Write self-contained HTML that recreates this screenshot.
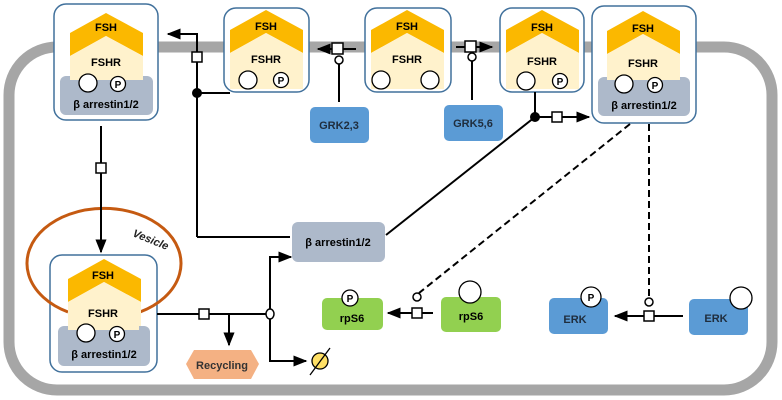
<!DOCTYPE html>
<html><head><meta charset="utf-8"><style>
html,body{margin:0;padding:0;background:#fff;}
svg{display:block;font-family:"Liberation Sans",Arial,sans-serif;font-weight:bold;}
</style></head><body>
<svg width="782" height="400" viewBox="0 0 782 400" xmlns="http://www.w3.org/2000/svg">
<defs>
<marker id="ah" viewBox="0 0 10 10" refX="9" refY="5" markerWidth="7" markerHeight="7" orient="auto"><path d="M0,1 L10,5 L0,9 z" fill="#000"/></marker>
<g id="rec">
  <polygon points="0,20 36,0 73,20 73,43 36,23 0,43" fill="#fbb800"/>
  <polygon points="0,43 36,23 73,43 73,70 0,70" fill="#fff2cc"/>
</g>
</defs>
<!-- membrane -->
<rect x="9" y="47" width="763" height="343" rx="48" ry="48" fill="none" stroke="#a6a6a6" stroke-width="11"/>

<text x="132" y="236" font-size="11" font-style="italic" transform="rotate(22 132 236)" fill="#222">Vesicle</text>

<!-- Box1 -->
<rect x="54" y="4" width="104" height="116" rx="12" fill="#fff" stroke="#41719c" stroke-width="1.5"/>
<use href="#rec" x="70" y="13"/>
<rect x="60" y="76" width="93" height="39" rx="6" fill="#adb9ca"/>
<rect x="70" y="72" width="73" height="8" fill="#fff2cc"/>
<text x="106" y="31" font-size="11" text-anchor="middle">FSH</text>
<text x="106" y="66" font-size="11" text-anchor="middle">FSHR</text>
<circle cx="88" cy="83" r="9" fill="#fff" stroke="#000" stroke-width="1.3"/>
<circle cx="118" cy="84" r="7.5" fill="#fff" stroke="#000" stroke-width="1.3"/><text x="118" y="88" font-size="10" text-anchor="middle">P</text>
<text x="106" y="108" font-size="11" text-anchor="middle">β arrestin1/2</text>

<!-- Box2 -->
<rect x="224" y="8" width="85" height="84" rx="12" fill="#fff" stroke="#41719c" stroke-width="1.5"/>
<use href="#rec" x="230" y="10"/>
<rect x="230" y="75" width="73" height="14" fill="#fff2cc"/>
<text x="266" y="30" font-size="11" text-anchor="middle">FSH</text>
<text x="266" y="63" font-size="11" text-anchor="middle">FSHR</text>
<circle cx="248" cy="80" r="9" fill="#fff" stroke="#000" stroke-width="1.3"/>
<circle cx="281" cy="80" r="7.5" fill="#fff" stroke="#000" stroke-width="1.3"/><text x="281" y="84" font-size="10" text-anchor="middle">P</text>

<!-- Box3 -->
<rect x="365" y="8" width="86" height="84" rx="12" fill="#fff" stroke="#41719c" stroke-width="1.5"/>
<use href="#rec" x="371" y="10"/>
<rect x="371" y="75" width="73" height="14" fill="#fff2cc"/>
<text x="407" y="30" font-size="11" text-anchor="middle">FSH</text>
<text x="407" y="63" font-size="11" text-anchor="middle">FSHR</text>
<circle cx="381" cy="80" r="9" fill="#fff" stroke="#000" stroke-width="1.3"/>
<circle cx="430" cy="80" r="9" fill="#fff" stroke="#000" stroke-width="1.3"/>

<!-- Box4 -->
<rect x="500" y="8" width="84" height="84" rx="12" fill="#fff" stroke="#41719c" stroke-width="1.5"/>
<use href="#rec" x="506" y="10"/>
<rect x="506" y="75" width="73" height="14" fill="#fff2cc"/>
<text x="542" y="31" font-size="11" text-anchor="middle">FSH</text>
<text x="542" y="65" font-size="11" text-anchor="middle">FSHR</text>
<circle cx="526" cy="81" r="9" fill="#fff" stroke="#000" stroke-width="1.3"/>
<circle cx="560" cy="81" r="7.5" fill="#fff" stroke="#000" stroke-width="1.3"/><text x="560" y="85" font-size="10" text-anchor="middle">P</text>

<!-- Box5 -->
<rect x="592" y="6" width="104" height="117" rx="12" fill="#fff" stroke="#41719c" stroke-width="1.5"/>
<use href="#rec" x="607" y="11"/>
<rect x="598" y="77" width="92" height="39" rx="6" fill="#adb9ca"/>
<rect x="607" y="72" width="73" height="8" fill="#fff2cc"/>
<text x="643" y="32" font-size="11" text-anchor="middle">FSH</text>
<text x="643" y="67" font-size="11" text-anchor="middle">FSHR</text>
<circle cx="624" cy="84" r="9" fill="#fff" stroke="#000" stroke-width="1.3"/>
<circle cx="655" cy="85" r="7.5" fill="#fff" stroke="#000" stroke-width="1.3"/><text x="655" y="89" font-size="10" text-anchor="middle">P</text>
<text x="644" y="109" font-size="11" text-anchor="middle">β arrestin1/2</text>

<!-- Box6 -->
<rect x="50" y="255" width="107" height="117" rx="12" fill="#fff" stroke="#41719c" stroke-width="1.5"/>
<path d="M68,312 A77,55 0 1 1 140,312" fill="none" stroke="#c55a11" stroke-width="3"/>
<use href="#rec" x="68" y="259"/>
<rect x="58" y="326" width="92" height="40" rx="6" fill="#adb9ca"/>
<rect x="68" y="322" width="71" height="8" fill="#fff2cc"/>
<text x="103" y="279" font-size="11" text-anchor="middle">FSH</text>
<text x="103" y="317" font-size="11" text-anchor="middle">FSHR</text>
<circle cx="86" cy="333" r="9" fill="#fff" stroke="#000" stroke-width="1.3"/>
<circle cx="117" cy="334" r="7.5" fill="#fff" stroke="#000" stroke-width="1.3"/><text x="117" y="338" font-size="10" text-anchor="middle">P</text>
<text x="104" y="358" font-size="11" text-anchor="middle">β arrestin1/2</text>

<g stroke="#000" stroke-width="2" fill="none">
<line x1="101" y1="126" x2="101" y2="252" marker-end="url(#ah)"/>
<polyline points="230,93 197,93"/>
<polyline points="197,237 197,34 168,34" marker-end="url(#ah)"/>
<line x1="197" y1="237" x2="290" y2="237"/>
<line x1="356" y1="49" x2="318" y2="49" marker-end="url(#ah)"/>
<line x1="339" y1="102" x2="339" y2="63"/>
<line x1="456" y1="47" x2="492" y2="47" marker-end="url(#ah)"/>
<line x1="472" y1="100" x2="472" y2="61"/>
<line x1="535" y1="92" x2="535" y2="117"/>
<line x1="535" y1="117" x2="589" y2="117" marker-end="url(#ah)"/>
<line x1="535" y1="117" x2="386" y2="235"/>
<line x1="630" y1="124" x2="419" y2="293" stroke-dasharray="7,4"/>
<line x1="649" y1="124" x2="649" y2="296" stroke-dasharray="7,4"/>
<line x1="433" y1="313" x2="388" y2="313" marker-end="url(#ah)"/>
<line x1="683" y1="316" x2="615" y2="316" marker-end="url(#ah)"/>
<line x1="157" y1="314" x2="270" y2="314"/>
<line x1="229" y1="314" x2="229" y2="345" marker-end="url(#ah)"/>
<polyline points="270,314 270,257 291,257" marker-end="url(#ah)"/>
<polyline points="270,314 270,361 306,361" marker-end="url(#ah)"/>
</g>
<g fill="#fff" stroke="#000" stroke-width="1.5">
<rect x="96" y="163" width="10" height="10"/>
<rect x="192" y="52" width="10" height="10"/>
<rect x="332" y="43" width="11" height="11"/>
<circle cx="339" cy="60" r="4"/>
<rect x="465" y="41" width="11" height="11"/>
<circle cx="472" cy="57" r="4"/>
<rect x="552" y="112" width="10" height="10"/>
<rect x="412" y="308" width="10" height="10"/>
<circle cx="417" cy="297" r="4"/>
<rect x="644" y="311" width="10" height="10"/>
<circle cx="649" cy="302" r="4"/>
<rect x="199" y="309" width="10" height="10"/>
<ellipse cx="270" cy="314" rx="4" ry="5"/>
</g>
<circle cx="197" cy="93" r="5"/>
<circle cx="535" cy="117" r="5"/>

<rect x="292" y="222" width="93" height="40" rx="6" fill="#adb9ca"/>
<text x="338" y="246" font-size="11" text-anchor="middle">β arrestin1/2</text>
<rect x="310" y="107" width="59" height="36" rx="5" fill="#5b9bd5"/>
<text x="339" y="129" font-size="11" text-anchor="middle" fill="#1f2d3d">GRK2,3</text>
<rect x="444" y="105" width="59" height="36" rx="5" fill="#5b9bd5"/>
<text x="473" y="127" font-size="11" text-anchor="middle" fill="#1f2d3d">GRK5,6</text>
<rect x="322" y="298" width="61" height="32" rx="5" fill="#92d050"/>
<circle cx="350" cy="298" r="8" fill="#fff" stroke="#000" stroke-width="1.3"/><text x="350" y="302" font-size="10" text-anchor="middle">P</text>
<text x="352" y="322" font-size="11" text-anchor="middle">rpS6</text>
<rect x="441" y="297" width="60" height="35" rx="5" fill="#92d050"/>
<circle cx="470" cy="292" r="11" fill="#fff" stroke="#000" stroke-width="1.3"/>
<text x="471" y="320" font-size="11" text-anchor="middle">rpS6</text>
<rect x="549" y="298" width="59" height="36" rx="5" fill="#5b9bd5"/>
<circle cx="591" cy="297" r="10" fill="#fff" stroke="#000" stroke-width="1.3"/><text x="591" y="301" font-size="10" text-anchor="middle">P</text>
<text x="575" y="323" font-size="11" text-anchor="middle" fill="#1f2d3d">ERK</text>
<rect x="689" y="299" width="59" height="36" rx="5" fill="#5b9bd5"/>
<circle cx="741" cy="298" r="11" fill="#fff" stroke="#000" stroke-width="1.3"/>
<text x="716" y="322" font-size="11" text-anchor="middle" fill="#1f2d3d">ERK</text>
<polygon points="194,350 251,350 259,364 251,379 194,379 186,364" fill="#f4b183"/>
<text x="222" y="369" font-size="11" text-anchor="middle" fill="#333">Recycling</text>
<circle cx="320" cy="361" r="8" fill="#ffe066" stroke="#000" stroke-width="1.3"/>
<line x1="310" y1="375" x2="330" y2="348" stroke="#000" stroke-width="1.3"/>
</svg>
</body></html>
